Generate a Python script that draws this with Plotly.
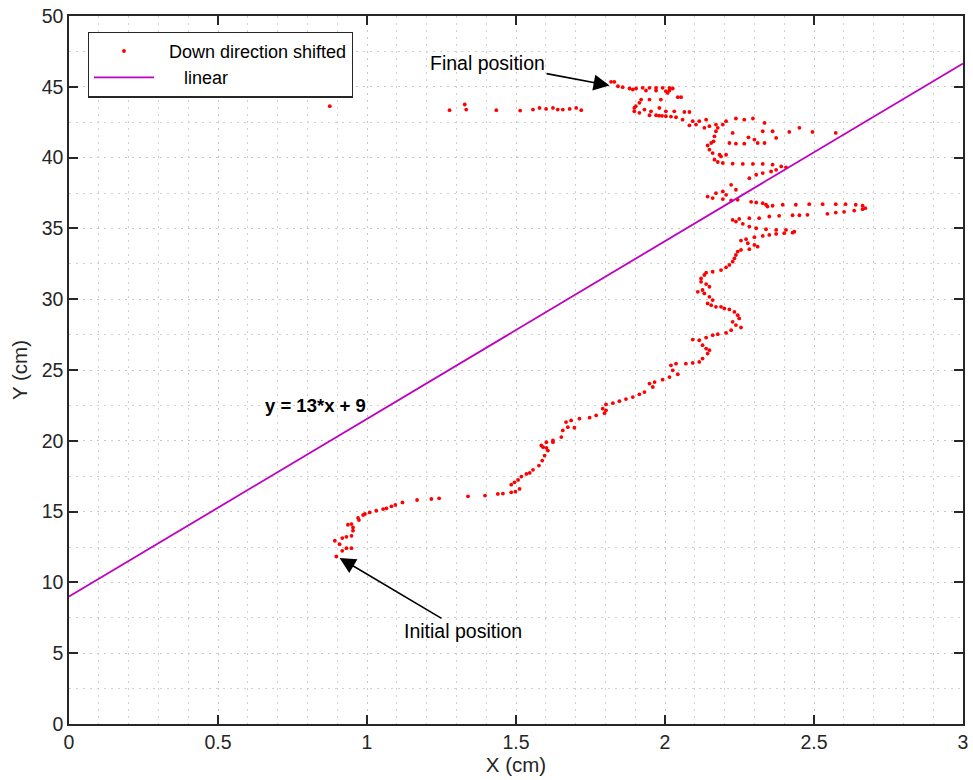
import plotly.graph_objects as go

# Trajectory of the "Down direction shifted" points (cm)
traj_x = [
    0.897, 0.917, 0.931, 0.948, 0.908, 0.892, 0.917, 0.931, 0.948, 0.953, 0.953, 0.948, 0.936, 0.973, 0.970,
    0.987, 0.993, 1.009, 1.031, 1.054, 1.065, 1.082, 1.095, 1.119, 1.168, 1.216, 1.242, 1.339, 1.396, 1.439,
    1.456, 1.484, 1.498, 1.512, 1.484, 1.495, 1.507, 1.518, 1.535, 1.546, 1.557, 1.577, 1.588, 1.596, 1.607,
    1.602, 1.591, 1.585, 1.624, 1.602, 1.624, 1.652, 1.657, 1.674, 1.696, 1.685, 1.668, 1.713, 1.747, 1.769,
    1.797, 1.802, 1.791, 1.802, 1.825, 1.847, 1.869, 1.892, 1.914, 1.931, 1.959, 1.948, 1.965, 1.992, 2.015,
    2.043, 2.026, 2.020, 2.037, 2.070, 2.093, 2.115, 2.126, 2.143, 2.149, 2.138, 2.126, 2.115, 2.093, 2.138,
    2.160, 2.177, 2.205, 2.222, 2.255, 2.238, 2.227, 2.249, 2.244, 2.233, 2.216, 2.199, 2.188, 2.171, 2.155,
    2.143, 2.160, 2.149, 2.132, 2.110, 2.126, 2.149, 2.138, 2.121, 2.121, 2.132, 2.138, 2.160, 2.188, 2.205,
    2.216, 2.227, 2.233, 2.238, 2.244, 2.255, 2.283, 2.311, 2.300, 2.278, 2.255, 2.272, 2.300, 2.328, 2.350,
    2.373, 2.400, 2.428, 2.434, 2.406, 2.373, 2.339, 2.306, 2.283, 2.261, 2.238, 2.227, 2.249, 2.283, 2.316,
    2.350, 2.383, 2.428, 2.451, 2.478, 2.545, 2.573, 2.601, 2.635, 2.663, 2.672, 2.663, 2.640, 2.606, 2.573,
    2.529, 2.484, 2.439, 2.395, 2.361, 2.344, 2.339, 2.328, 2.306, 2.289, 2.244, 2.222, 2.194, 2.160, 2.143,
    2.205, 2.171, 2.194, 2.238, 2.222, 2.283, 2.306, 2.328, 2.356, 2.373, 2.406, 2.390, 2.361, 2.328, 2.295,
    2.261, 2.227, 2.194, 2.177, 2.166, 2.188, 2.205, 2.183, 2.160, 2.149, 2.143, 2.155, 2.163, 2.166, 2.171,
    2.216, 2.238, 2.266, 2.311, 2.334, 2.300, 2.373, 2.280, 2.227, 2.328, 2.361, 2.417, 2.451, 2.495, 2.573,
    2.295, 2.266, 2.238, 2.194, 2.205, 2.171, 2.177, 2.149, 2.132, 2.138, 2.334, 2.082, 2.104, 2.093, 2.115,
    2.059, 2.037, 2.020, 2.003, 1.990, 1.980, 1.970, 1.948, 1.914, 1.897, 1.897, 1.902, 1.914, 1.920, 1.931,
    1.953, 1.981, 2.003, 2.031, 2.065, 2.082, 1.948, 1.986, 2.009, 2.043, 2.054, 2.015, 2.026, 2.015, 1.992,
    1.970, 1.948, 1.925, 1.903, 1.881, 1.858, 1.842, 1.830, 1.819, 2.003, 1.970, 1.936, 1.892,
    0.875, 1.277, 1.328, 1.333, 1.434, 1.514, 1.557, 1.579, 1.601, 1.624, 1.640, 1.657, 1.680, 1.702, 1.719,
]
traj_y = [
    11.83, 12.23, 12.42, 12.42, 12.70, 12.94, 13.13, 13.22, 13.29, 13.65, 13.88, 14.12, 14.07, 14.40, 14.55,
    14.76, 14.83, 14.94, 15.06, 15.18, 15.23, 15.37, 15.47, 15.65, 15.82, 15.89, 15.94, 16.08, 16.13, 16.25,
    16.27, 16.36, 16.41, 16.60, 16.90, 17.07, 17.24, 17.47, 17.66, 17.73, 17.95, 18.25, 18.60, 18.96, 19.31,
    19.50, 19.55, 19.67, 19.90, 19.90, 20.02, 20.26, 20.73, 20.96, 20.92, 21.44, 21.32, 21.56, 21.63, 21.79,
    21.95, 22.15, 22.27, 22.57, 22.66, 22.80, 22.95, 23.09, 23.28, 23.44, 23.80, 24.04, 24.15, 24.32, 24.50,
    24.70, 24.98, 25.33, 25.45, 25.45, 25.50, 25.57, 25.81, 26.16, 26.40, 26.51, 26.75, 27.10, 27.15, 27.29,
    27.46, 27.53, 27.62, 27.81, 28.00, 28.17, 28.40, 28.64, 28.87, 29.10, 29.28, 29.35, 29.46, 29.46, 29.58,
    29.70, 29.94, 30.17, 30.41, 30.52, 30.65, 30.88, 31.07, 31.23, 31.47, 31.71, 31.87, 31.94, 32.06, 32.25,
    32.42, 32.65, 32.89, 33.12, 33.36, 33.48, 33.53, 33.71, 33.83, 33.95, 34.14, 34.24, 34.38, 34.47, 34.54,
    34.61, 34.66, 34.70, 34.77, 34.89, 34.89, 34.94, 35.01, 35.13, 35.32, 35.48, 35.60, 35.67, 35.72, 35.72,
    35.84, 35.89, 35.93, 35.93, 35.96, 36.03, 36.12, 36.17, 36.26, 36.36, 36.43, 36.60, 36.67, 36.71, 36.71,
    36.71, 36.71, 36.67, 36.67, 36.60, 36.54, 36.67, 36.78, 36.83, 36.88, 37.02, 36.97, 37.07, 37.14, 37.25,
    37.37, 37.49, 37.61, 37.73, 38.08, 38.55, 38.79, 38.91, 39.02, 39.14, 39.31, 39.38, 39.50, 39.55, 39.55,
    39.55, 39.57, 39.62, 39.69, 39.85, 40.08, 40.20, 40.20, 40.32, 40.56, 40.86, 41.03, 41.15, 41.50, 41.86,
    41.03, 40.98, 40.98, 41.03, 41.03, 41.27, 41.39, 41.43, 41.74, 41.86, 41.86, 41.81, 42.10, 41.81, 41.74,
    42.76, 42.68, 42.76, 42.33, 42.57, 42.33, 42.10, 42.22, 42.10, 42.68, 42.45, 42.28, 42.33, 42.57, 42.57,
    42.68, 42.85, 42.90, 42.92, 42.95, 42.96, 42.99, 42.99, 43.16, 43.27, 43.51, 43.63, 43.87, 44.10, 43.39,
    43.27, 43.51, 43.27, 43.27, 43.22, 43.22, 44.10, 44.10, 44.57, 44.27, 44.27, 44.74, 44.88, 44.93, 44.93,
    44.93, 44.93, 44.93, 44.88, 44.88, 44.97, 45.04, 45.35, 45.35, 44.69, 44.74, 44.74, 44.81,
    43.63, 43.35, 43.75, 43.39, 43.35, 43.32, 43.39, 43.51, 43.44, 43.51, 43.39, 43.39, 43.44, 43.51, 43.35,
]

# Fitted line (as drawn)
line_x = [0, 3]
line_y = [9.0, 46.65]

x_ticks = [0, 0.5, 1, 1.5, 2, 2.5, 3]
x_tick_labels = ["0", "0.5", "1", "1.5", "2", "2.5", "3"]
y_ticks = [0, 5, 10, 15, 20, 25, 30, 35, 40, 45, 50]

FONT = "Liberation Sans, Arial, Helvetica, sans-serif"
TXT = "#262626"

fig = go.Figure()
fig.add_trace(go.Scatter(
    x=traj_x, y=traj_y, mode="markers", name="  Down direction shifted",
    marker=dict(color="#ff0000", size=3.8, line=dict(width=0)),
))
fig.add_trace(go.Scatter(
    x=line_x, y=line_y, mode="lines", name="     linear",
    line=dict(color="#bf00bf", width=1.8),
))

axis_common = dict(
    showline=True, linecolor="#262626", linewidth=1.5, mirror="ticks",
    ticks="inside", ticklen=9, tickcolor="#262626", tickwidth=1.5,
    showgrid=True, gridcolor="#c8c8c8", gridwidth=1, griddash="2px,5px",
    zeroline=False,
    tickfont=dict(family=FONT, size=19.5, color=TXT),
)

fig.update_xaxes(
    range=[0, 3], tickvals=x_ticks, ticktext=x_tick_labels,
    minor=dict(dtick=0.1, showgrid=True, gridcolor="#d0d0d0", griddash="2px,5px", ticks=""),
    title=dict(text="X (cm)", font=dict(family=FONT, size=20.5, color=TXT), standoff=0),
    **axis_common,
)
fig.update_yaxes(
    range=[0, 50], tickvals=y_ticks,
    minor=dict(dtick=2.5, showgrid=True, gridcolor="#d0d0d0", griddash="2px,5px", ticks=""),
    title=dict(text="Y (cm)", font=dict(family=FONT, size=20.5, color=TXT), standoff=8),
    **axis_common,
)

fig.add_annotation(
    x=1.814, y=45.09, xref="x", yref="y", text="Final position",
    showarrow=True, arrowhead=2, arrowsize=2.0, arrowwidth=1.6, arrowcolor="#000000",
    ax=-122, ay=-23, font=dict(family=FONT, size=19.5, color="#000000"),
)
fig.add_annotation(
    x=0.908, y=11.73, xref="x", yref="y", text="Initial position",
    showarrow=True, arrowhead=2, arrowsize=2.0, arrowwidth=1.6, arrowcolor="#000000",
    ax=123, ay=73, font=dict(family=FONT, size=19.5, color="#000000"),
)
fig.add_annotation(
    x=0.828, y=22.5, xref="x", yref="y", text="<b>y = 13*x + 9</b>",
    showarrow=False, font=dict(family=FONT, size=18.5, color="#000000"),
)

fig.update_layout(
    width=973, height=780,
    margin=dict(l=69, r=5, t=14, b=56),
    paper_bgcolor="white", plot_bgcolor="white",
    font=dict(family=FONT, size=18, color=TXT),
    legend=dict(
        x=0.021, y=0.978, xanchor="left", yanchor="top",
        bgcolor="white", bordercolor="#262626", borderwidth=1.2,
        font=dict(family=FONT, size=18, color="#000000"),
        itemwidth=60, tracegroupgap=0,
    ),
)

fig.write_html("out.html")
